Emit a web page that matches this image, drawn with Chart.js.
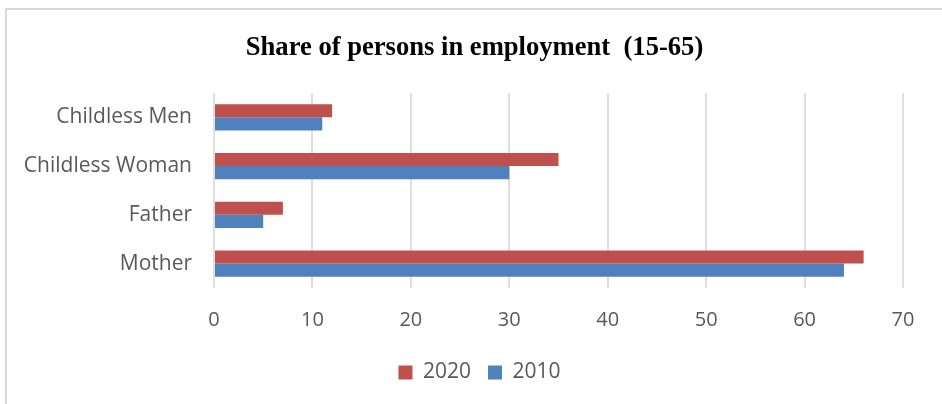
<!DOCTYPE html>
<html>
<head>
<meta charset="utf-8">
<script src="https://cdn.jsdelivr.net/npm/chart.js@4"></script>
<style>
  body { margin: 0; background: #fff; }
  #wrap { position: relative; width: 942px; height: 404px; overflow: hidden; }
  #frame { position: absolute; left: 5px; top: 8px; right: -10px; bottom: -10px;
           border-left: 2px solid #d9d9d9; border-top: 2px solid #d9d9d9; }
  canvas { position: absolute; left: 0; top: 0; }
</style>
</head>
<body>
<div id="wrap">
  <div id="frame"></div>
  <canvas id="myChart" width="942" height="404"></canvas>
</div>
<script>
// data
var categories = ['Childless Men', 'Childless Woman', 'Father', 'Mother'];
var values2020 = [12, 35, 7, 66];
var values2010 = [11, 30, 5, 64];
var seriesNames = ['2020', '2010'];
var xTicks = [0, 10, 20, 30, 40, 50, 60, 70];

var textGrey = '#595959';

// title and legend sit a bit right of the canvas centre in the original
var shiftBoxes = {
    id: 'shiftBoxes',
    afterLayout: function (chart) {
        if (chart.titleBlock) { chart.titleBlock.left += 23; chart.titleBlock.right += 23; }
        if (chart.legend) {
            chart.legend.left += 28; chart.legend.right += 28;
            chart.legend.top -= 7; chart.legend.bottom -= 7;
        }
    }
};

var ctx = document.getElementById('myChart');
var myChart = new Chart(ctx, {
    type: 'bar',
    data: {
        labels: categories,
        datasets: [{
            label: seriesNames[0],
            data: values2020,
            backgroundColor: '#C0504D'
        }, {
            label: seriesNames[1],
            data: values2010,
            backgroundColor: '#4F81BD'
        }]
    },
    options: {
        indexAxis: 'y',
        responsive: false,
        animation: false,
        categoryPercentage: 0.54,
        barPercentage: 1,
        layout: { padding: { left: 0, right: 39, top: 0, bottom: 4 } },
        scales: {
            x: {
                min: xTicks[0],
                max: xTicks[xTicks.length - 1],
                afterBuildTicks: function (scale) {
                    scale.ticks = xTicks.map(function (v) { return { value: v }; });
                },
                afterFit: function (scale) { scale.height = 64; },
                grid: { color: '#dedede', lineWidth: 2, drawTicks: false },
                border: { display: false },
                ticks: {
                    padding: 20,
                    color: textGrey,
                    font: { family: 'Open Sans', size: 20 }
                }
            },
            y: {
                afterFit: function (scale) { scale.width = 214; },
                grid: { display: false, drawTicks: false },
                border: { display: false },
                ticks: {
                    padding: 22,
                    color: textGrey,
                    font: { family: 'Open Sans', size: 21 }
                }
            }
        },
        plugins: {
            title: {
                display: true,
                text: 'Share of persons in employment  (15-65)',
                color: '#000',
                font: { family: 'Liberation Serif', size: 26.6, weight: 'bold' },
                padding: { top: 32, bottom: 29 }
            },
            legend: {
                position: 'bottom',
                labels: {
                    boxWidth: 14,
                    boxHeight: 14,
                    padding: 17,
                    color: textGrey,
                    font: { family: 'Open Sans', size: 21 }
                }
            },
            tooltip: { enabled: false }
        }
    },
    plugins: [shiftBoxes]
});
</script>
</body>
</html>
